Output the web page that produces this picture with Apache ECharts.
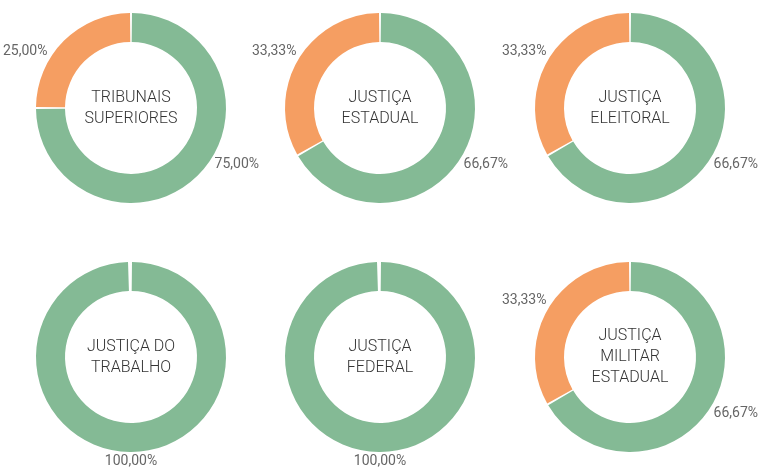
<!DOCTYPE html>
<html>
<head>
<meta charset="utf-8">
<script src="https://cdn.jsdelivr.net/npm/echarts@6/dist/echarts.min.js"></script>
<style>
  html, body { margin: 0; padding: 0; background: #fff; }
  #main { width: 759px; height: 470px; }
</style>
</head>
<body>
<div id="main"></div>
<script>
// one donut per court branch: [green share, orange share]
const titles = [
    'TRIBUNAIS\nSUPERIORES',
    'JUSTIÇA\nESTADUAL',
    'JUSTIÇA\nELEITORAL',
    'JUSTIÇA DO\nTRABALHO',
    'JUSTIÇA\nFEDERAL',
    'JUSTIÇA\nMILITAR\nESTADUAL'
];
const greenValues = [75, 66.67, 66.67, 100, 100, 66.67];
const orangeValues = [25, 33.33, 33.33, 0, 0, 33.33];

const centersX = [131, 380, 630, 131, 380, 630];
const centersY = [108, 108, 108, 357, 357, 357];

const GREEN = '#84ba95';
const ORANGE = '#f59e62';
const FONT = "Roboto, 'DejaVu Sans', sans-serif";
const R_OUT = 95;
const R_IN = 66;

function fmtPct(p) {
    return p.toFixed(2).replace('.', ',') + '%';
}

/**
 * Place a slice label just outside the ring, along the slice middle,
 * but keep side labels no steeper than ~28 degrees.
 */
function placeLabel(i, p) {
    let g = greenValues[i], o = orangeValues[i];
    let total = g + o;
    let frac = p.dataIndex === 0 ? g / 2 / total : (g + o / 2) / total;
    let theta = frac * Math.PI * 2;
    let dx = Math.sin(theta), dy = -Math.cos(theta);
    if (o > 0 && Math.abs(dy) > 0.47) {
        dy = dy < 0 ? -0.47 : 0.47;
        dx = (dx < 0 ? -1 : 1) * Math.sqrt(1 - dy * dy);
    }
    let w = p.labelRect.width, h = p.labelRect.height;
    let dist = R_OUT + 2 + Math.abs(dx) * w / 2 + Math.abs(dy) * h / 2;
    return {
        x: centersX[i] + dx * dist,
        y: centersY[i] + dy * dist,
        align: 'center',
        verticalAlign: 'middle'
    };
}

let chart = echarts.init(document.getElementById('main'));

let series = [];
let graphics = [];

for (let i = 0; i < titles.length; i++) {
    let idx = i;
    series.push({
        type: 'pie',
        center: [centersX[i], centersY[i]],
        radius: [R_IN, R_OUT],
        startAngle: 90,
        clockwise: true,
        padAngle: 1.2,
        silent: true,
        itemStyle: { borderWidth: 0 },
        label: {
            show: true,
            position: 'outside',
            color: '#666',
            fontSize: 14,
            fontFamily: FONT,
            overflow: 'none',
            formatter: function (p) { return fmtPct(p.percent); }
        },
        labelLine: { show: false, length: 4, length2: 0 },
        labelLayout: function (p) { return placeLabel(idx, p); },
        data: [
            { name: 'sim', value: greenValues[i], itemStyle: { color: GREEN } },
            { name: 'não', value: orangeValues[i], itemStyle: { color: ORANGE },
              label: { show: orangeValues[i] > 0 } }
        ]
    });
    graphics.push({
        type: 'text',
        x: centersX[i],
        y: centersY[i],
        style: {
            text: titles[i],
            fill: '#333',
            font: '300 16px ' + FONT,
            lineHeight: 21,
            align: 'center',
            verticalAlign: 'middle'
        }
    });
}

let option = {
    animation: false,
    series: series,
    graphic: graphics
};

option && chart.setOption(option);
</script>
</body>
</html>
